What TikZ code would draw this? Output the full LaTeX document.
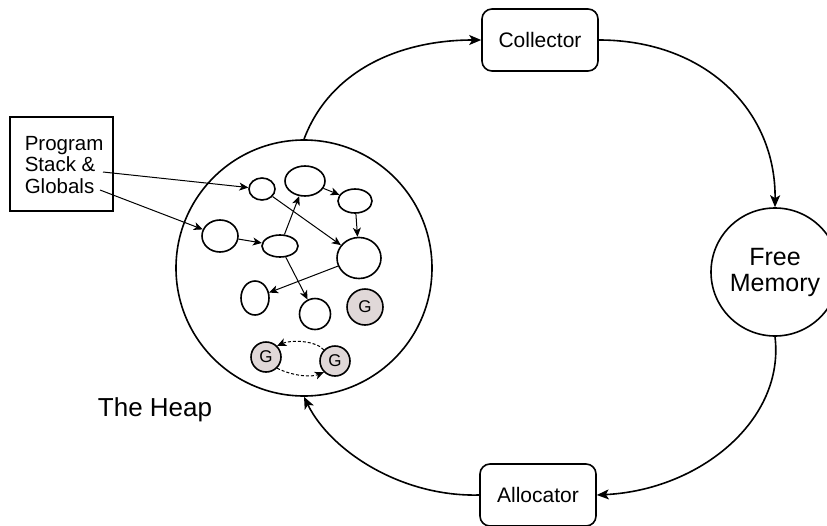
\documentclass[tikz,border=0pt]{standalone}
\usepackage{fontspec}
\setmainfont{Liberation Sans}
\usetikzlibrary{arrows.meta,shapes.geometric}
\definecolor{gnode}{RGB}{224,216,216}
\begin{document}
\begin{tikzpicture}[x=1pt,y=-1pt,line width=1.6pt,
  bigarrow/.style={-{Stealth[length=12pt,width=10pt,inset=3pt]}},
  smallarrow/.style={line width=1pt,-{Stealth[length=9pt,width=8pt,inset=2.5pt]}},
  obj/.style={draw,ellipse,line width=1.6pt,inner sep=0pt},
  gobj/.style={draw,circle,fill=gnode,line width=1.6pt,inner sep=0pt,minimum size=30pt,font=\fontsize{17}{19}\selectfont},
  stagebox/.style={draw,rounded corners=10pt,minimum width=116pt,minimum height=62pt,font=\fontsize{21}{24}\selectfont}]
\useasboundingbox (0,0) rectangle (827,525);

% the heap and the cycle around it
\node[draw,circle,minimum size=256pt,inner sep=0pt] (heap) at (304,268) {};
\node[stagebox] (coll) at (540,40) {Collector};
\node[stagebox] (alloc) at (538,495) {Allocator};
\node[draw,circle,minimum size=128pt,inner sep=0pt,align=center,font=\fontsize{25}{26}\selectfont] (free) at (775,272) {Free\\Memory};
\node[font=\fontsize{26}{28}\selectfont] (heaplabel) at (155,410) {The Heap};

\draw[bigarrow] (heap.north) .. controls (330,70) and (400,40) .. (coll.west);
\draw[bigarrow] (coll.east) .. controls (705,40) and (776,110) .. (free.north);
\draw[bigarrow] (free.south) .. controls (785,420) and (700,490) .. (alloc.east);
\draw[bigarrow] (alloc.west) .. controls (400,497) and (330,450) .. (heap.south);

% roots
\node[draw,minimum width=103pt,minimum height=94pt] (roots) at (61.5,164) {};
\node[align=left,anchor=west,inner sep=0pt,font=\fontsize{20.5}{21.5}\selectfont] (rootstext) at (24,165) {Program\\Stack \&\\Globals};
\coordinate (stackend) at (103,172);
\coordinate (globend) at (100,190);

% objects on the heap
\node[obj,minimum width=26pt,minimum height=22pt] (a) at (262,189) {};
\node[obj,minimum width=40pt,minimum height=30pt] (b) at (305,181) {};
\node[obj,minimum width=34pt,minimum height=24pt] (c) at (355,201) {};
\node[obj,minimum width=36pt,minimum height=32pt] (d) at (220,236) {};
\node[obj,minimum width=36pt,minimum height=22pt] (e) at (280,246) {};
\node[obj,minimum width=44pt,minimum height=41pt] (f) at (359,258) {};
\node[obj,minimum width=28pt,minimum height=34pt] (h) at (255,298) {};
\node[obj,minimum width=31pt,minimum height=31pt] (i) at (315,314) {};
\node[gobj,minimum size=36pt] (g1) at (365,307) {G};
\node[gobj] (g2) at (266,357) {G};
\node[gobj] (g3) at (335,361) {G};

\draw[smallarrow] (stackend) -- (a);
\draw[smallarrow] (globend) -- (d);
\draw[smallarrow] (a) -- (f);
\draw[smallarrow] (b) -- (c);
\draw[smallarrow] (c) -- (f);
\draw[smallarrow] (d) -- (e);
\draw[smallarrow] (e) -- (b);
\draw[smallarrow] (e) -- (i);
\draw[smallarrow] (f) -- (h);
\draw[smallarrow,dash pattern=on 3pt off 2pt] (g3.north west) .. controls (315,340) and (290,340) .. (g2.north east);
\draw[smallarrow,dash pattern=on 3pt off 2pt] (g2.south east) .. controls (290,375) and (310,378) .. (g3.south west);
\end{tikzpicture}
\end{document}
